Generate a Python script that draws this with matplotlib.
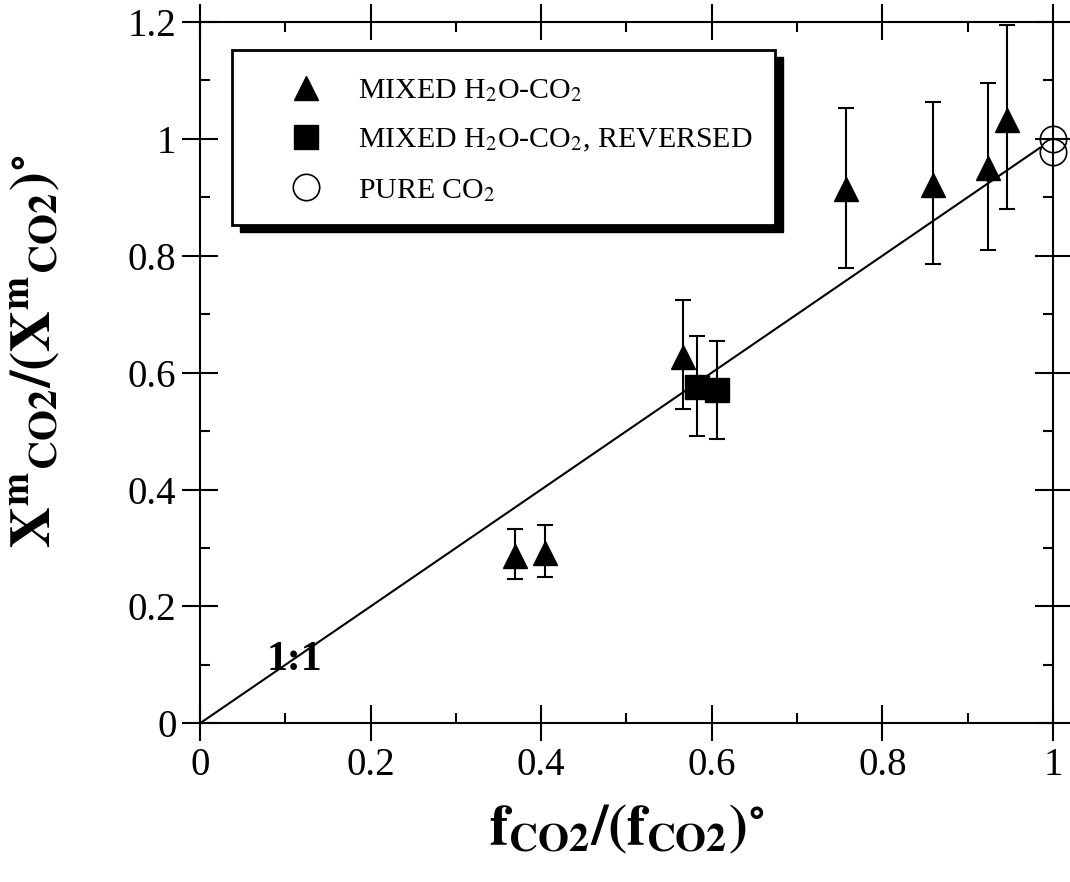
import matplotlib
matplotlib.use("Agg")
import matplotlib.pyplot as plt
from matplotlib.patches import Rectangle
from matplotlib.ticker import MultipleLocator

# mixed H2O-CO2 runs
mixed_x = [0.369, 0.404, 0.566, 0.757, 0.859, 0.924, 0.946]
mixed_y = [0.286, 0.291, 0.627, 0.914, 0.921, 0.950, 1.033]
mixed_lo = [0.247, 0.250, 0.538, 0.779, 0.786, 0.810, 0.880]
mixed_hi = [0.332, 0.339, 0.724, 1.053, 1.063, 1.096, 1.195]

# mixed H2O-CO2, reversed
rev_x = [0.583, 0.606]
rev_y = [0.575, 0.570]
rev_lo = [0.491, 0.486]
rev_hi = [0.663, 0.654]

# pure CO2
pure_x = [1.0, 1.0]
pure_y = [1.0, 0.978]

# 1:1 line
line_x = [0.0, 0.985]
line_y = [0.0, 0.985]

x_ticks = [0, 0.2, 0.4, 0.6, 0.8, 1.0]
x_labels = ['0', '0.2', '0.4', '0.6', '0.8', '1']
y_ticks = [0, 0.2, 0.4, 0.6, 0.8, 1.0, 1.2]
y_labels = ['0', '0.2', '0.4', '0.6', '0.8', '1', '1.2']

plt.rcParams['font.family'] = 'Liberation Serif'
plt.rcParams['mathtext.fontset'] = 'stix'

fig = plt.figure(figsize=(10.7, 8.82), dpi=100)
ax = fig.add_axes([0.187, 0.180, 0.797, 0.795])

ax.plot(line_x, line_y, color='black', lw=1.5, zorder=2)

ax.errorbar(mixed_x, mixed_y,
            yerr=[[y - l for y, l in zip(mixed_y, mixed_lo)],
                  [h - y for y, h in zip(mixed_y, mixed_hi)]],
            fmt='none', ecolor='black', elinewidth=1.5, capsize=6, capthick=1.5, zorder=3)
ax.errorbar(rev_x, rev_y,
            yerr=[[y - l for y, l in zip(rev_y, rev_lo)],
                  [h - y for y, h in zip(rev_y, rev_hi)]],
            fmt='none', ecolor='black', elinewidth=1.5, capsize=6, capthick=1.5, zorder=3)

ax.plot(mixed_x, mixed_y, '^', color='black', ms=17, ls='none',
        label='MIXED H$_2$O-CO$_2$', zorder=4)
ax.plot(rev_x, rev_y, 's', color='black', ms=17, ls='none',
        label='MIXED H$_2$O-CO$_2$, REVERSED', zorder=4)
ax.plot(pure_x, pure_y, 'o', mfc='none', mec='black', mew=1.2, ms=19, ls='none',
        label='PURE CO$_2$', zorder=4, clip_on=False)

ax.text(0.111, 0.108, '1:1', fontsize=30, fontweight='bold', ha='center', va='center')

ax.set_xlim(0, 1)
ax.set_ylim(0, 1.2)
ax.set_xticks(x_ticks)
ax.set_xticklabels(x_labels)
ax.set_yticks(y_ticks)
ax.set_yticklabels(y_labels)
ax.xaxis.set_minor_locator(MultipleLocator(0.1))
ax.yaxis.set_minor_locator(MultipleLocator(0.1))
ax.tick_params(which='major', direction='inout', length=26, width=1.5,
               top=True, right=True, labelsize=28, pad=4)
ax.tick_params(which='minor', direction='in', length=7, width=1.5, top=True, right=True)
for s in ax.spines.values():
    s.set_linewidth(1.5)

ax.set_xlabel(r'$\mathbf{f_{CO2}/(f_{CO2})^{\circ}}$', fontsize=41, labelpad=14)
ax.set_ylabel(r'$\mathbf{X^{m}{}_{CO2}/(X^{m}{}_{CO2})^{\circ}}$', fontsize=41)
ax.yaxis.set_label_coords(-0.162, 0.53)

# legend frame with solid shadow
ax.add_patch(Rectangle((0.047, 0.700), 0.637, 0.250, transform=ax.transAxes,
                       facecolor='black', edgecolor='black', zorder=5))
ax.add_patch(Rectangle((0.0375, 0.710), 0.637, 0.250, transform=ax.transAxes,
                       facecolor='white', edgecolor='black', lw=2, zorder=6))
leg = ax.legend(loc='upper left', bbox_to_anchor=(0.07, 0.955), frameon=False,
                fontsize=21.5, handletextpad=1.0, labelspacing=0.75, handlelength=1.5,
                borderpad=0.3)
leg.set_zorder(7)

fig.savefig('out.png', dpi=100)
